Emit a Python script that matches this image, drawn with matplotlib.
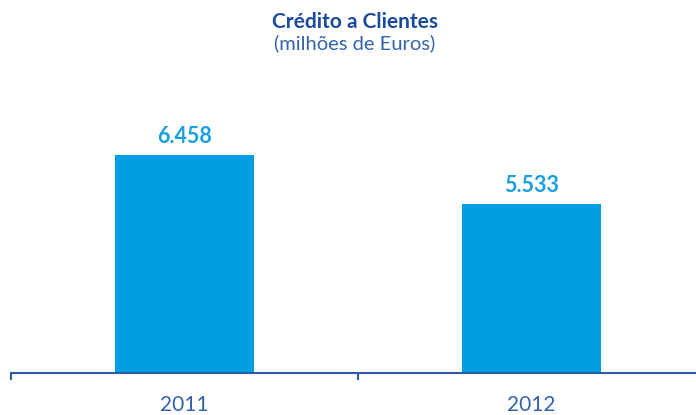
import matplotlib
matplotlib.use("Agg")
import matplotlib.pyplot as plt
import numpy as np

years = ["2011", "2012"]
values = [6458, 5533]
value_labels = ["6.458", "5.533"]

title = "Crédito a Clientes"
subtitle = "(milhões de Euros)"

plt.rcParams["font.family"] = ["Lato", "DejaVu Sans"]

fig = plt.figure(figsize=(6.96, 4.15), dpi=100)
# axes run past the right edge so the line reaches the border
ax = fig.add_axes([11 / 696, 42 / 415, 694 / 696, 373 / 415])

x = np.arange(len(years))
ax.bar(x, values, width=0.4, color="#009fe3", zorder=2)

for xi, v, lab in zip(x, values, value_labels):
    ax.annotate(lab, (xi, v), xytext=(0, 6), textcoords="offset points",
                ha="center", va="bottom", fontsize=15.5, fontweight="bold",
                color="#1a9fe0")

ax.set_xlim(-0.5, 1.5)
ax.set_ylim(2343, 9385)

for side in ["top", "right", "left"]:
    ax.spines[side].set_visible(False)
ax.spines["bottom"].set_color("#2a5caa")
ax.spines["bottom"].set_linewidth(1.5)

ax.set_yticks([])
ax.set_xticks([-0.5, 0.5, 1.5])
ax.set_xticklabels([])
ax.tick_params(axis="x", length=5, width=1.5, color="#2a5caa")
for xi, yr in zip(x, years):
    ax.text(xi, -0.085, yr, transform=ax.get_xaxis_transform(), ha="center",
            va="center", fontsize=15, color="#3463ad")

fig.text(355 / 696, 1 - 22 / 415, title, ha="center", va="center",
         fontsize=15, fontweight="bold", color="#1a4a9c")
fig.text(355 / 696, 1 - 43 / 415, subtitle, ha="center", va="center",
         fontsize=14.5, color="#3463ad")

fig.savefig("out.png", dpi=100)
